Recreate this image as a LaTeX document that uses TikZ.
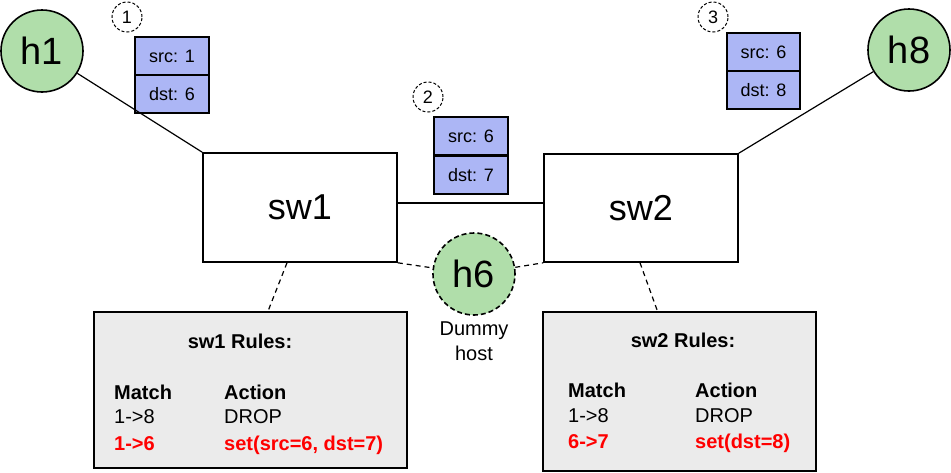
\documentclass[tikz,border=0pt]{standalone}
\usepackage{fontspec}
\setmainfont{Liberation Sans}
\definecolor{hostgreen}{RGB}{176,222,170}
\definecolor{pktblue}{RGB}{172,182,245}
\definecolor{rulegray}{RGB}{235,235,235}
\definecolor{rulered}{RGB}{255,0,0}
\begin{document}
\begin{tikzpicture}[x=1pt,y=-1pt,
 host/.style={circle, draw, line width=1.6pt, fill=hostgreen, minimum size=82pt, inner sep=0pt, font=\fontsize{38}{40}\selectfont},
 swbox/.style={draw, line width=1.6pt, fill=white, minimum width=194pt, minimum height=109pt, inner sep=0pt, font=\fontsize{36}{40}\selectfont},
 pkt/.style={draw, line width=1.3pt, fill=pktblue, minimum width=74pt, minimum height=38pt, inner sep=0pt, font=\fontsize{18}{20}\selectfont},
 stepnum/.style={circle, draw, dash pattern=on 3pt off 2pt, line width=1pt, minimum size=30pt, inner sep=0pt, font=\fontsize{18}{20}\selectfont},
 rulebox/.style={draw, line width=1.6pt, fill=rulegray, inner sep=0pt},
 rtxt/.style={anchor=base west, inner sep=0pt, font=\fontsize{20}{24}\selectfont},
 rbold/.style={rtxt, font=\fontsize{20}{24}\selectfont\bfseries},
 rred/.style={rtxt, text=rulered, font=\fontsize{20}{24}\selectfont\bfseries},
 link/.style={line width=1.2pt},
 dlink/.style={line width=1.2pt, dash pattern=on 5pt off 4pt}]
\useasboundingbox (0,0) rectangle (951,472);

% switches
\node[swbox] (sw1) at (300,207.5) {sw1};
\node[swbox, minimum height=108pt] (sw2) at (641,208) {sw2};

% hosts
\node[host] (h1) at (42,51) {h1};
\node[host] (h8) at (909,50) {h8};
\node[host, dash pattern=on 5pt off 3pt] (h6) at (474,274) {h6};
\node[font=\fontsize{20}{25}\selectfont, align=center, inner sep=0pt] (dummy) at (474,341) {Dummy\\host};

% step numbers
\node[stepnum] (c1) at (127,17) {1};
\node[stepnum] (c2) at (428,97) {2};
\node[stepnum] (c3) at (713,17) {3};

% packets
\node[pkt] (p1a) at (172,56) {src: 1};
\node[pkt] (p1b) at (172,94) {dst: 6};
\node[pkt] (p2a) at (471,136) {src: 6};
\node[pkt] (p2b) at (471,175) {dst: 7};
\node[pkt, minimum width=73pt] (p3a) at (763.5,52) {src: 6};
\node[pkt, minimum width=73pt] (p3b) at (763.5,90) {dst: 8};

% rule boxes
\node[rulebox, minimum width=313pt, minimum height=156pt] (r1) at (250.5,390) {};
\node[rulebox, minimum width=273pt, minimum height=159pt] (r2) at (679.5,391.5) {};

\node[rbold, anchor=base] (r1t) at (240,348) {sw1 Rules:};
\node[rbold] (r1m) at (114,399) {Match};
\node[rbold] (r1a) at (224,399) {Action};
\node[rtxt] (r1m1) at (114,423) {1->8};
\node[rtxt] (r1a1) at (224,423) {DROP};
\node[rred] (r1m2) at (114,450) {1->6};
\node[rred] (r1a2) at (224,450) {set(src=6, dst=7)};

\node[rbold, anchor=base] (r2t) at (683,347) {sw2 Rules:};
\node[rbold] (r2m) at (568,397) {Match};
\node[rbold] (r2a) at (695,397) {Action};
\node[rtxt] (r2m1) at (568,422) {1->8};
\node[rtxt] (r2a1) at (695,422) {DROP};
\node[rred] (r2m2) at (568,448) {6->7};
\node[rred] (r2a2) at (695,448) {set(dst=8)};

% connectors
\draw[link] (h1) -- (sw1.north west);
\draw[link] (h8) -- (sw2.north east);
\draw[link] ([yshift=4.5pt]sw1.east) -- ([yshift=4.5pt]sw1.east -| sw2.west);
\draw[dlink] (sw1.south east) -- (h6);
\draw[dlink] (h6) -- (sw2.south west);
\draw[dlink] ([xshift=-13pt]sw1.south) -- ([xshift=17.5pt]r1.north);
\draw[dlink] ([xshift=-1pt]sw2.south) -- ([xshift=-22pt]r2.north);
\end{tikzpicture}
\end{document}
